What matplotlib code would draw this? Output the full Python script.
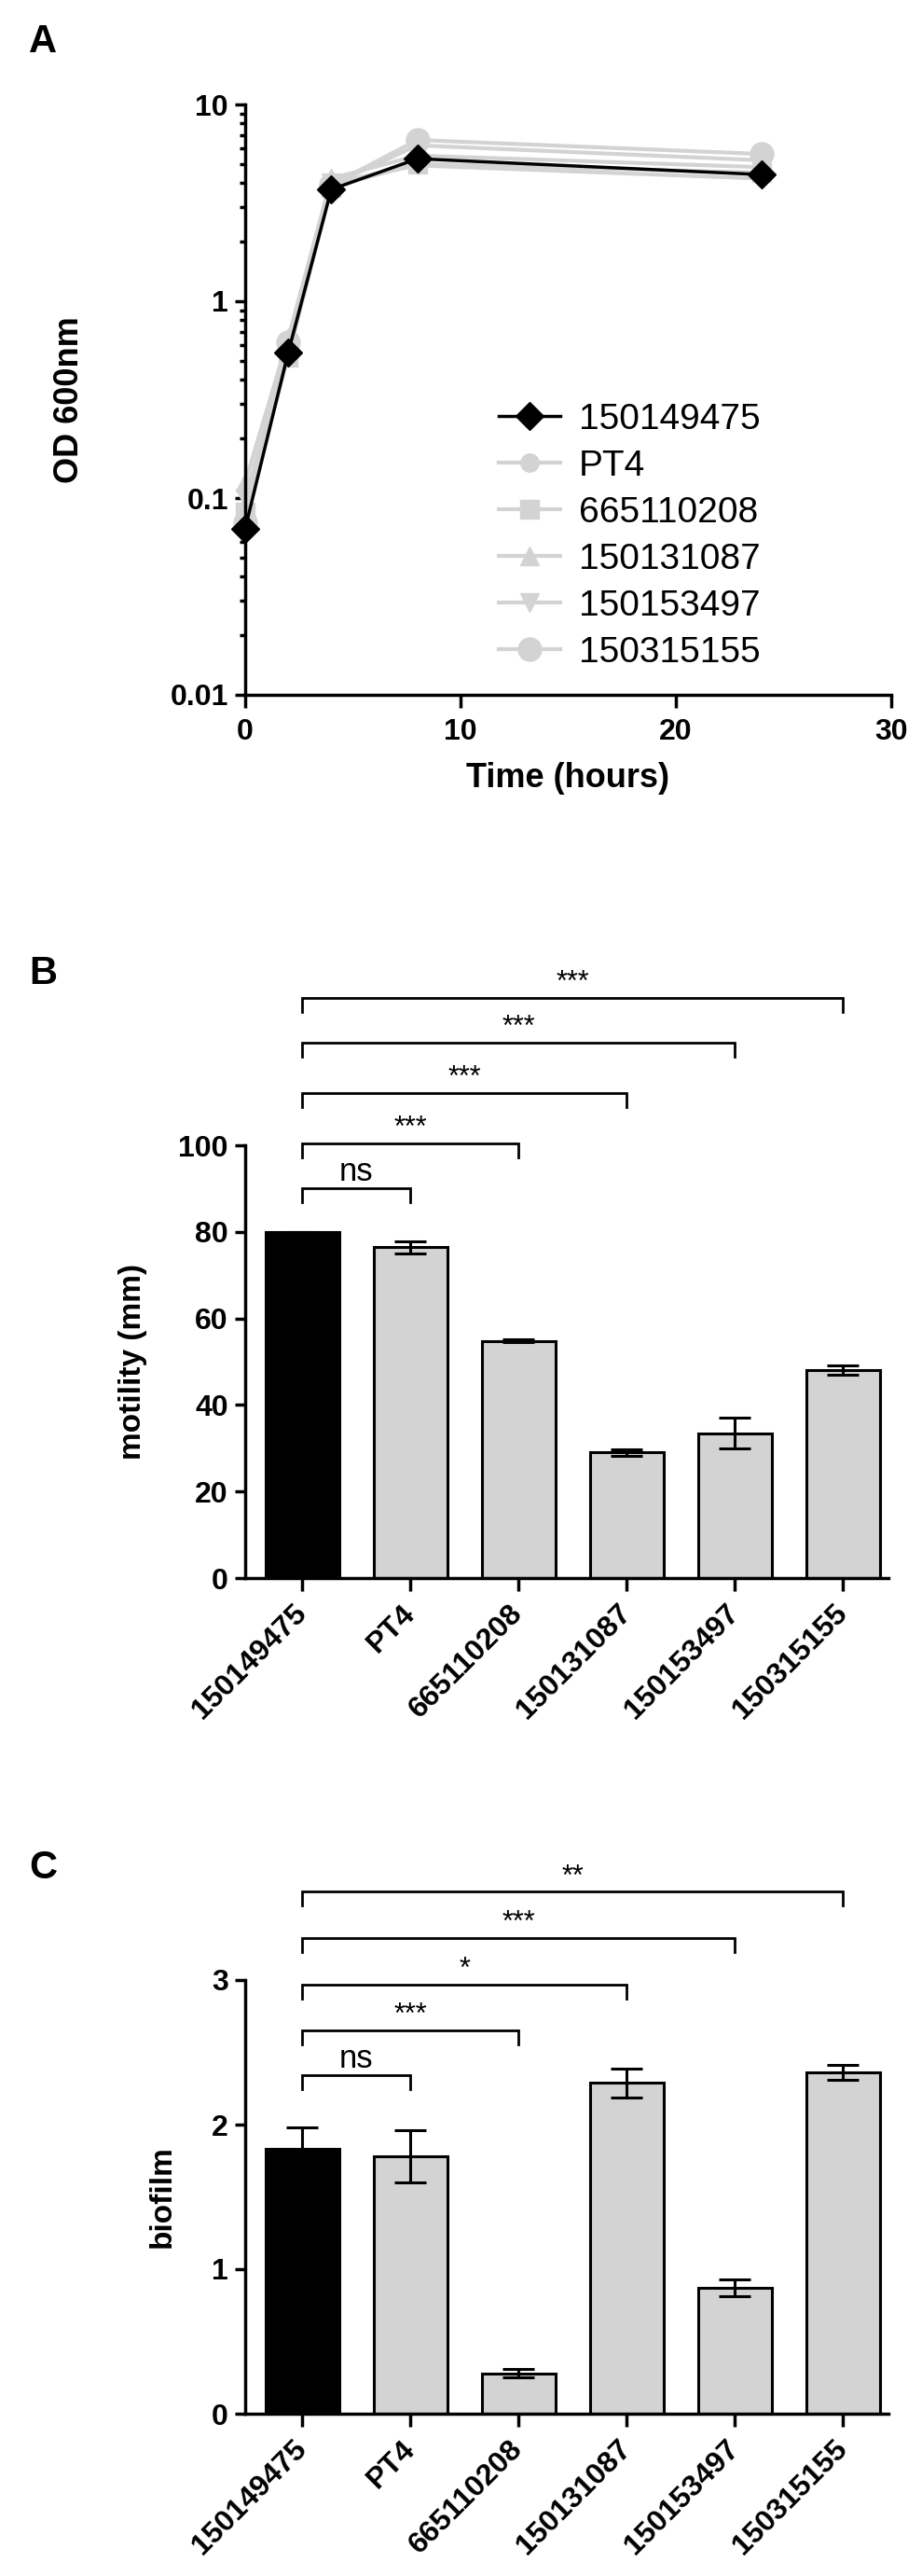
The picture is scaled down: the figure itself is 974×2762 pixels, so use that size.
#!/usr/bin/env python3
"""Growth curves (A), motility (B) and biofilm (C) for six strains."""

import matplotlib

matplotlib.use("Agg")
import matplotlib.pyplot as plt
from matplotlib.lines import Line2D
from matplotlib.ticker import FixedLocator, FuncFormatter, LogLocator, NullFormatter

W, H, DPI = 974, 2762, 100
GREY = "#d3d3d3"

STRAINS = ["150149475", "PT4", "665110208", "150131087", "150153497", "150315155"]

# panel A: OD600 over time
HOURS = [0, 2, 4, 8, 24]
OD_150149475 = [0.07, 0.55, 3.7, 5.3, 4.4]
OD_PT4 = [0.08, 0.60, 3.9, 6.2, 5.2]
OD_665110208 = [0.085, 0.52, 3.8, 5.0, 4.5]
OD_150131087 = [0.12, 0.65, 4.2, 5.5, 4.8]
OD_150153497 = [0.10, 0.58, 4.0, 4.9, 4.2]
OD_150315155 = [0.075, 0.62, 3.9, 6.6, 5.6]

# panel B: motility (mm)
MOTILITY = [80.0, 76.5, 54.8, 29.0, 33.5, 48.0]
MOTILITY_ERR = [0.0, 1.4, 0.3, 0.8, 3.6, 1.1]
MOTILITY_SIG = ["ns", "***", "***", "***", "***"]
MOTILITY_SIG_Y = [90, 100.4, 112, 123.7, 134]

# panel C: biofilm
BIOFILM = [1.83, 1.78, 0.28, 2.29, 0.87, 2.36]
BIOFILM_ERR = [0.15, 0.18, 0.03, 0.10, 0.06, 0.05]
BIOFILM_SIG = ["ns", "***", "*", "***", "**"]
BIOFILM_SIG_Y = [2.34, 2.65, 2.97, 3.29, 3.61]

plt.rcParams["font.family"] = ["Liberation Sans", "DejaVu Sans"]
plt.rcParams["font.weight"] = "bold"
plt.rcParams["axes.labelweight"] = "bold"


def px_rect(left, top, right, bottom):
    return [left / W, 1 - bottom / H, (right - left) / W, (bottom - top) / H]


def style_axes(ax):
    for side in ("top", "right"):
        ax.spines[side].set_visible(False)
    for side in ("left", "bottom"):
        ax.spines[side].set_linewidth(2.5)
    ax.tick_params(which="major", length=8, width=2.5, labelsize=23, pad=5)
    ax.tick_params(which="minor", length=4.5, width=2.5)


def plot_growth(fig):
    ax = fig.add_axes(px_rect(263, 112, 956, 745))
    series = [OD_PT4, OD_665110208, OD_150131087, OD_150153497, OD_150315155]
    markers = [("o", 14), ("s", 14), ("^", 15), ("v", 15), ("o", 18)]
    handles = [Line2D([], [], color="black", lw=2.5, marker="D", ms=15)]
    for vals, (mk, ms) in zip(series, markers):
        ax.plot(HOURS, vals, color=GREY, lw=3, marker=mk, ms=ms, clip_on=False, zorder=2)
        handles.append(Line2D([], [], color=GREY, lw=3, marker=mk, ms=ms))
    ax.plot(HOURS, OD_150149475, color="black", lw=2.5, marker="D", ms=15,
            clip_on=False, zorder=3)

    ax.set_yscale("log")
    ax.set_ylim(0.01, 10)
    ax.set_xlim(0, 30)
    ax.yaxis.set_major_locator(FixedLocator([0.01, 0.1, 1, 10]))
    ax.yaxis.set_major_formatter(FuncFormatter(lambda v, _p: f"{v:g}"))
    ax.yaxis.set_minor_locator(LogLocator(base=10, subs=range(2, 10)))
    ax.yaxis.set_minor_formatter(NullFormatter())
    ax.set_xticks([0, 10, 20, 30])
    style_axes(ax)
    ax.tick_params(axis="x", length=10, pad=8)

    ax.set_xlabel("Time (hours)", fontsize=26, labelpad=12)
    ax.set_ylabel("OD 600nm", fontsize=26)
    ax.yaxis.set_label_coords((92 - 263) / 693, 0.5)

    ax.legend(handles, STRAINS, loc="upper left",
              bbox_to_anchor=(535 / W, 1 - 432 / H), bbox_transform=fig.transFigure,
              frameon=False, borderpad=0, borderaxespad=0,
              prop={"size": 28, "weight": "normal"},
              handlelength=1.7, handletextpad=0.5, labelspacing=0.36)


def plot_bars(fig, rect, values, errors, ymax, yticks, ylabel, ylabel_x, sig, sig_y,
              px_per_unit):
    ax = fig.add_axes(px_rect(*rect))
    x = list(range(len(values)))
    colors = ["black"] + [GREY] * (len(values) - 1)
    ax.bar(x, values, width=0.68, color=colors, edgecolor="black", linewidth=2.2,
           yerr=errors, capsize=12,
           error_kw={"elinewidth": 2.2, "capthick": 2.2, "ecolor": "black"})
    ax.set_xlim(-0.53, 5.42)
    ax.set_ylim(0, ymax)
    ax.set_yticks(yticks)
    ax.set_xticks(x)
    ax.set_xticklabels(STRAINS, rotation=45, ha="right", va="center",
                       rotation_mode="anchor")
    style_axes(ax)
    ax.tick_params(axis="x", length=10, pad=14)
    ax.set_ylabel(ylabel, fontsize=24)
    ax.yaxis.set_label_coords((ylabel_x - 263) / (rect[2] - rect[0]), 0.5)

    leg = 15 / px_per_unit
    gap = 8 / px_per_unit
    for i, (label, y) in enumerate(zip(sig, sig_y), start=1):
        ax.plot([0, 0, i, i], [y - leg, y, y, y - leg], color="black", lw=2,
                clip_on=False, solid_joinstyle="miter")
        fs = 25 if label == "ns" else 22
        ax.text(i / 2, y + gap, label, ha="center", va="baseline", fontsize=fs,
                fontweight="normal", clip_on=False)
    return ax


def main():
    fig = plt.figure(figsize=(W / DPI, H / DPI), dpi=DPI)

    plot_growth(fig)
    plot_bars(fig, (263, 1228, 953, 1692), MOTILITY, MOTILITY_ERR, 100,
              [0, 20, 40, 60, 80, 100], "motility (mm)", 158,
              MOTILITY_SIG, MOTILITY_SIG_Y, 4.64)
    plot_bars(fig, (263, 2123, 953, 2588), BIOFILM, BIOFILM_ERR, 3,
              [0, 1, 2, 3], "biofilm", 190,
              BIOFILM_SIG, BIOFILM_SIG_Y, 155)

    for letter, y in (("A", 45), ("B", 1044), ("C", 2003)):
        fig.text(46 / W, 1 - y / H, letter, ha="center", va="center",
                 fontsize=30, fontweight="bold")

    fig.savefig("out.png", dpi=DPI)
    plt.close(fig)


if __name__ == "__main__":
    main()
